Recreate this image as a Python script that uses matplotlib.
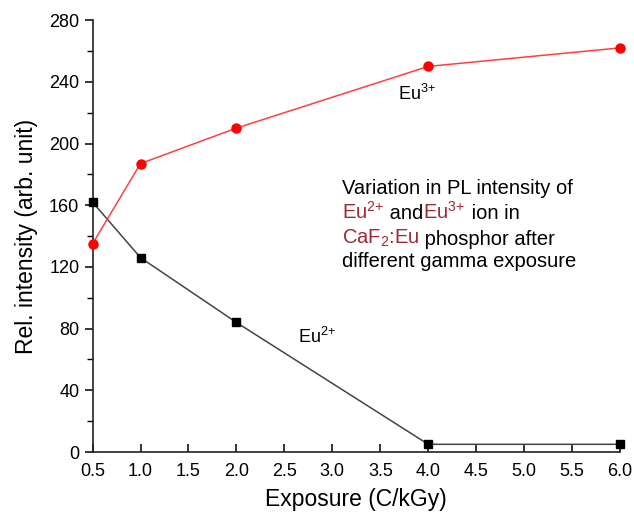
import numpy as np
import matplotlib.pyplot as plt
from matplotlib.ticker import MultipleLocator

plt.rcParams['font.family'] = ['Liberation Sans', 'DejaVu Sans']
plt.rcParams['mathtext.fontset'] = 'custom'
plt.rcParams['mathtext.rm'] = 'Liberation Sans'

exposure = [0.5, 1.0, 2.0, 4.0, 6.0]
eu2 = [162, 126, 84, 5, 5]
eu3 = [135, 187, 210, 250, 262]

dark_red = '#9b2a35'

fig = plt.figure(figsize=(6.34, 5.16), dpi=100)
ax = fig.add_axes([0.146, 0.124, 0.832, 0.837])

ax.plot(exposure, eu2, color='#444444', lw=1.1, marker='s', ms=6,
        mfc='black', mec='black', clip_on=False, zorder=3)
ax.plot(exposure, eu3, color='#ff4040', lw=1.1, marker='o', ms=6.5,
        mfc='#ff0000', mec='#ff0000', clip_on=False, zorder=3)

ax.set_xlim(0.5, 6.0)
ax.set_ylim(0, 280)
ax.xaxis.set_major_locator(MultipleLocator(0.5))
ax.yaxis.set_major_locator(MultipleLocator(40))
ax.yaxis.set_minor_locator(MultipleLocator(20))
ax.xaxis.set_major_formatter(plt.FormatStrFormatter('%.1f'))

for s in ['top', 'right']:
    ax.spines[s].set_visible(False)
for s in ['left', 'bottom']:
    ax.spines[s].set_linewidth(1.2)
    ax.spines[s].set_color('#222222')

ax.tick_params(axis='x', direction='in', length=6, width=1.1, labelsize=13, pad=8)
ax.tick_params(axis='y', direction='out', length=6, width=1.1, labelsize=13)
ax.tick_params(axis='y', which='minor', direction='out', length=4, width=1.0)

ax.set_xlabel('Exposure (C/kGy)', fontsize=16.5, labelpad=6)
ax.set_ylabel('Rel. intensity (arb. unit)', fontsize=16.5, labelpad=8)

ax.text(3.68, 228, r'Eu$^{3{+}}$', fontsize=13)
ax.text(2.64, 71, r'Eu$^{2{+}}$', fontsize=13)

# multi-coloured caption, built piece by piece
fs = 14.5
ax.text(3.1, 167, 'Variation in PL intensity of', fontsize=fs)
t = ax.text(3.1, 151, r'Eu$^{2{+}}$', fontsize=fs, color=dark_red)
t = ax.annotate(' and', xy=(1, 0), xycoords=t, fontsize=fs, va='bottom')
t = ax.annotate(r'Eu$^{3{+}}$', xy=(1, 0), xycoords=t, fontsize=fs,
                color=dark_red, va='bottom')
ax.annotate(' ion in', xy=(1, 0), xycoords=t, fontsize=fs, va='bottom')
t = ax.text(3.1, 135, r'CaF$_{2}$:Eu', fontsize=fs, color=dark_red)
ax.annotate(' phosphor after', xy=(1, 0), xycoords=t, fontsize=fs, va='bottom')
ax.text(3.1, 120, 'different gamma exposure', fontsize=fs)

fig.savefig('out.png', dpi=100)
